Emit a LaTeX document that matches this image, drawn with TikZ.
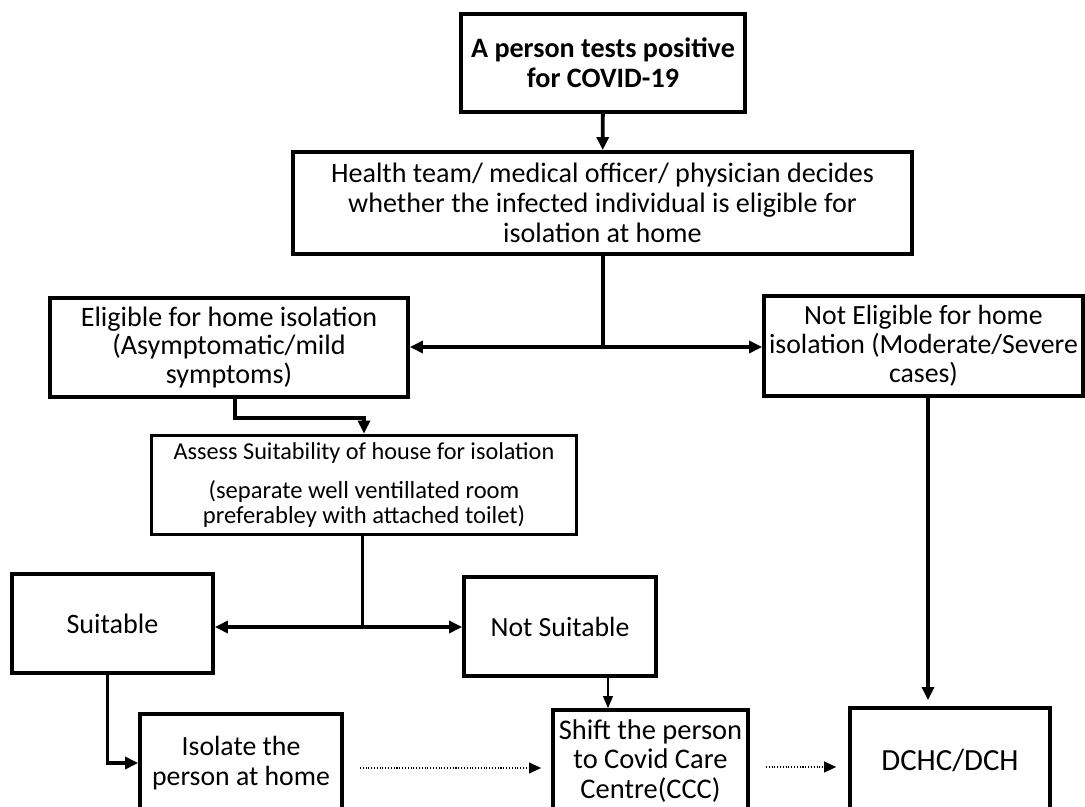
\documentclass[tikz,border=0pt]{standalone}
\usepackage{fontspec}
\setmainfont{Carlito}
\usetikzlibrary{arrows.meta}
\begin{document}
\begin{tikzpicture}[x=0.02cm,y=-0.02cm,
  box/.style={draw,line width=2.2pt,align=center,inner sep=0pt,font=\fontsize{16}{16.5}\selectfont},
  conn/.style={line width=2.2pt},
  arr/.style={line width=2.2pt,-{Triangle[length=0.26cm,width=0.24cm]}},
  thinarr/.style={line width=0.6pt,-{Triangle[length=0.24cm,width=0.2cm]}},
  dotarr/.style={line width=0.6pt,densely dotted,-{Triangle[length=0.24cm,width=0.22cm]}}]
\useasboundingbox (0,0) rectangle (1085,807);
\node[box,minimum width=5.68cm,minimum height=1.96cm,font=\fontsize{16}{17}\selectfont\bfseries] (b1) at (603,63) {A person tests positive\\for COVID-19};
\node[box,minimum width=12.38cm,minimum height=2.04cm,font=\fontsize{16}{16.9}\selectfont] (b2) at (602.5,203) {Health team/ medical officer/ physician decides\\whether the infected individual is eligible for\\isolation at home};
\node[box,minimum width=7.16cm,minimum height=1.98cm,font=\fontsize{16}{16.5}\selectfont] (elig) at (229,347.5) {Eligible for home isolation\\(Asymptomatic/mild\\symptoms)};
\node[box,minimum width=6.38cm,minimum height=2cm,font=\fontsize{15.8}{16.4}\selectfont] (notel) at (923.5,346) {Not Eligible for home\\isolation (Moderate/Severe\\cases)};
\node[box,minimum width=8.5cm,minimum height=1.98cm,font=\fontsize{13.8}{14}\selectfont] (assess) at (364,485) {Assess Suitability of house for isolation\\[8pt]{\fontsize{14}{14}\selectfont(separate well ventillated room}\\{\fontsize{14}{14}\selectfont preferabley with attached toilet)}};
\node[box,minimum width=4.02cm,minimum height=1.98cm] (suit) at (112.5,623.5) {Suitable};
\node[box,minimum width=3.84cm,minimum height=1.98cm,font=\fontsize{15.8}{16}\selectfont] (notsuit) at (560,626.5) {Not Suitable};
\node[box,minimum width=4.04cm,minimum height=1.96cm,font=\fontsize{15.8}{17}\selectfont] (iso) at (241,763) {Isolate the\\person at home};
\node[box,minimum width=3.9cm,minimum height=2.04cm,font=\fontsize{16.2}{17}\selectfont] (shift) at (650.5,761) {Shift the person\\to Covid Care\\Centre(CCC)};
\node[box,minimum width=4cm,minimum height=2.08cm,font=\fontsize{17.5}{20}\selectfont] (dchc) at (950,760) {DCHC/DCH};
\coordinate (j1) at (603,347);
\coordinate (j2) at (362.5,627);
\draw[arr] (b1) -- (b2);
\draw[conn] (b2.south -| j1) -- (j1);
\draw[arr] (j1) -- (elig.east |- j1);
\draw[arr] (j1) -- (notel.west |- j1);
\draw[arr] ([xshift=0.12cm]elig.south) -- ++(0,19) -| (assess.north);
\draw[conn] (assess.south -| j2) -- (j2);
\draw[arr] (j2) -- (j2 -| suit.east);
\draw[arr] (j2) -- (j2 -| notsuit.west);
\draw[arr] ([xshift=-0.1cm]suit.south) |- (iso.west);
\draw[thinarr] ([xshift=0.96cm]notsuit.south) -- ([xshift=0.96cm]notsuit.south |- shift.north);
\draw[arr,shorten >=0.12cm] ([xshift=0.09cm]notel.south) -- ([xshift=0.09cm]notel.south |- dchc.north);
\draw[dotarr,shorten <=0.32cm,shorten >=0.2cm] ([yshift=-0.1cm]iso.east) -- ([yshift=-0.1cm]iso.east -| shift.west);
\draw[dotarr,shorten <=0.32cm,shorten >=0.24cm] ([yshift=-0.12cm]shift.east) -- ([yshift=-0.12cm]shift.east -| dchc.west);
\end{tikzpicture}
\end{document}
